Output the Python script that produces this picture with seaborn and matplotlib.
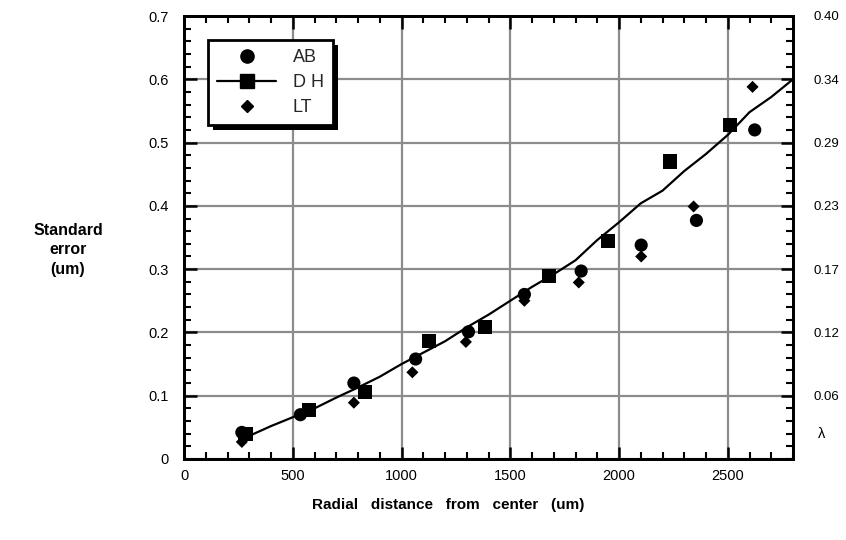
import numpy as np
import pandas as pd
import matplotlib
matplotlib.use("Agg")
import matplotlib.pyplot as plt
import seaborn as sns
from matplotlib.lines import Line2D
from matplotlib.patches import Rectangle
from matplotlib.ticker import MultipleLocator

# ---- data ----
ab_x = [266, 535, 781, 1065, 1308, 1565, 1826, 2102, 2356, 2624]
ab_y = [0.042, 0.070, 0.120, 0.158, 0.201, 0.260, 0.297, 0.338, 0.377, 0.520]

dh_x = [283, 574, 832, 1127, 1385, 1677, 1949, 2233, 2512]
dh_y = [0.040, 0.078, 0.106, 0.187, 0.208, 0.289, 0.344, 0.470, 0.528]

lt_x = [266, 781, 1050, 1296, 1565, 1815, 2102, 2343, 2614]
lt_y = [0.027, 0.089, 0.137, 0.185, 0.250, 0.279, 0.320, 0.399, 0.588]

fit_x = [290, 400, 500, 600, 700, 800, 900, 1000, 1100, 1200, 1300, 1400, 1500,
         1600, 1700, 1800, 1900, 2000, 2100, 2200, 2300, 2400, 2500, 2600, 2700, 2800]
fit_y = [0.035, 0.052, 0.066, 0.080, 0.097, 0.113, 0.130, 0.150, 0.168, 0.186,
         0.208, 0.228, 0.250, 0.272, 0.292, 0.314, 0.346, 0.374, 0.404, 0.424,
         0.455, 0.482, 0.512, 0.548, 0.572, 0.600]

x_ticks = [0, 500, 1000, 1500, 2000, 2500]
y_ticks = [0, 0.1, 0.2, 0.3, 0.4, 0.5, 0.6, 0.7]
y_ticklabels = ["0", "0.1", "0.2", "0.3", "0.4", "0.5", "0.6", "0.7"]
lam_ticks = [0.1, 0.2, 0.3, 0.4, 0.5, 0.6, 0.7]
lam_labels = ["0.06", "0.12", "0.17", "0.23", "0.29", "0.34", "0.40"]
series_names = ["AB", "D H", "LT"]

sns.set_theme(style="white")
plt.rcParams["font.family"] = ["Liberation Sans", "DejaVu Sans"]

fig = plt.figure(figsize=(8.46, 5.4), dpi=100)
ax = fig.add_axes([184 / 846, 81 / 540, 609 / 846, 443 / 540])

df_ab = pd.DataFrame({"x": ab_x, "y": ab_y})
df_dh = pd.DataFrame({"x": dh_x, "y": dh_y})
df_lt = pd.DataFrame({"x": lt_x, "y": lt_y})
df_fit = pd.DataFrame({"x": fit_x, "y": fit_y})

sns.lineplot(data=df_fit, x="x", y="y", ax=ax, color="black", lw=1.6,
             estimator=None, sort=False, zorder=3, clip_on=False)
sns.scatterplot(data=df_ab, x="x", y="y", ax=ax, marker="o", s=90,
                color="black", edgecolor="none", linewidth=0, zorder=4)
sns.scatterplot(data=df_dh, x="x", y="y", ax=ax, marker="s", s=105,
                color="black", edgecolor="none", linewidth=0, zorder=4)
sns.scatterplot(data=df_lt, x="x", y="y", ax=ax, marker="D", s=38,
                color="black", edgecolor="none", linewidth=0, zorder=4)

ax.set_xlim(0, 2800)
ax.set_ylim(0, 0.7)
ax.set_xticks(x_ticks)
ax.set_xticklabels([str(v) for v in x_ticks])
ax.set_yticks(y_ticks)
ax.set_yticklabels(y_ticklabels)
ax.xaxis.set_minor_locator(MultipleLocator(100))
ax.yaxis.set_minor_locator(MultipleLocator(0.02))
ax.grid(True, which="major", color="#8c8c8c", lw=1.6)
ax.set_axisbelow(True)

for sp in ax.spines.values():
    sp.set_visible(True)
    sp.set_color("black")
    sp.set_linewidth(2)

ax.tick_params(axis="both", which="major", direction="in", length=9, width=1.8,
               color="black", labelsize=10.5, labelcolor="black")
ax.tick_params(axis="both", which="minor", direction="in", length=5, width=1.5,
               color="black")
ax.tick_params(axis="x", which="both", top=True, bottom=True, labeltop=False)
ax.tick_params(axis="x", which="major", pad=7)
ax.tick_params(axis="y", which="both", left=True, right=False)
ax.tick_params(axis="y", which="major", pad=11)

ax.set_xlabel("Radial   distance   from   center   (um)", fontsize=11,
              fontweight="bold", color="black")
ax.xaxis.set_label_coords((448 - 184) / 609, -0.088)
ax.set_ylabel("Standard\nerror\n(um)", fontsize=11.5, fontweight="bold",
              color="black", rotation=0, ha="center", va="center",
              linespacing=1.35)
ax.yaxis.set_label_coords((68 - 184) / 609, (459 - 250) / 443)

ax2 = ax.twinx()
ax2.set_ylim(0, 0.7)
ax2.set_yticks(lam_ticks)
ax2.set_yticklabels(lam_labels)
ax2.yaxis.set_minor_locator(MultipleLocator(0.02))
ax2.grid(False)
for sp in ax2.spines.values():
    sp.set_visible(True)
    sp.set_color("black")
    sp.set_linewidth(2)
ax2.tick_params(axis="y", which="major", direction="in", length=9, width=1.8,
                color="black", labelsize=9.5, labelcolor="black", pad=15)
ax2.tick_params(axis="y", which="minor", direction="in", length=5, width=1.5,
                color="black")
ax2.text(1.047, (459 - 434) / 443, "λ", transform=ax2.transAxes, fontsize=10.5,
         ha="center", va="center", color="black")

handles = [
    Line2D([], [], marker="o", ls="none", color="black", ms=9.5),
    Line2D([], [], marker="s", ls="-", color="black", ms=10, lw=1.6),
    Line2D([], [], marker="D", ls="none", color="black", ms=6.2),
]
leg = ax2.legend(handles, series_names, loc="upper left",
                 bbox_to_anchor=(0.039, 0.946), borderaxespad=0,
                 fancybox=False, framealpha=1, edgecolor="black",
                 fontsize=13, handlelength=3.3, handletextpad=0.9,
                 labelspacing=0.45, borderpad=0.5)
leg.get_frame().set_linewidth(2)
leg.set_zorder(10)

fig.canvas.draw()
bb = leg.get_window_extent().transformed(fig.transFigure.inverted())
dx = 5 / 846
dy = 5 / 540
shadow = Rectangle((bb.x0 + dx, bb.y0 - dy), bb.width, bb.height,
                   transform=fig.transFigure, facecolor="black",
                   edgecolor="none", zorder=9, clip_on=False)
ax2.add_artist(shadow)

fig.savefig("out.png", dpi=100)
